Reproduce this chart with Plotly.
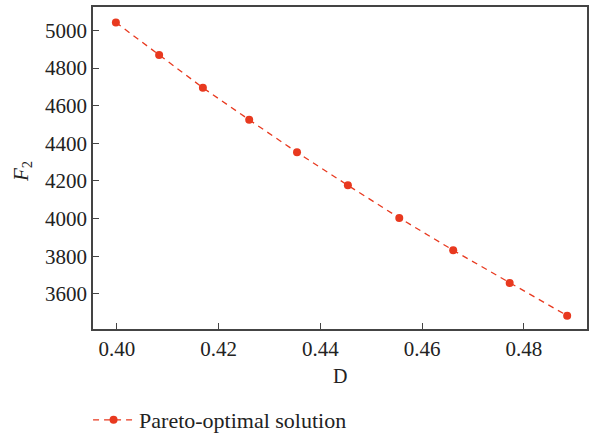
import plotly.graph_objects as go

D = [0.3998, 0.4083, 0.4169, 0.4260, 0.4354, 0.4454, 0.4555, 0.4661, 0.4772, 0.4885]
F2 = [5042, 4869, 4695, 4525, 4352, 4177, 4004, 3832, 3658, 3485]
series_name = "Pareto-optimal solution"
x_ticks = [0.40, 0.42, 0.44, 0.46, 0.48]
y_ticks = [3600, 3800, 4000, 4200, 4400, 4600, 4800, 5000]

color = "#e8391f"
font_family = "Liberation Serif, Times New Roman, serif"

fig = go.Figure()
fig.add_trace(go.Scatter(
    x=D, y=F2, mode="lines+markers", name=series_name,
    line=dict(color=color, width=1.3, dash="6px,5px"),
    marker=dict(color=color, size=8),
))

axis_common = dict(
    showline=True, linecolor="#444", linewidth=1.5, mirror=True,
    ticks="inside", ticklen=6, tickcolor="#444", tickwidth=1.2,
    showgrid=False, zeroline=False, automargin=False,
    tickfont=dict(family=font_family, size=21, color="#222"),
)

fig.update_layout(
    width=589, height=433,
    margin=dict(l=93, r=2, t=7, b=104, autoexpand=False),
    plot_bgcolor="white", paper_bgcolor="white",
    font=dict(family=font_family, size=21, color="#222"),
    xaxis=dict(range=[0.3953, 0.4924], tickvals=x_ticks,
               ticktext=[f"{v:.2f}" for v in x_ticks],
               **axis_common),
    yaxis=dict(range=[3414, 5124], tickvals=y_ticks, **axis_common),
    showlegend=True,
    legend=dict(orientation="h", x=-0.010, xanchor="left", y=-91/322, yanchor="middle",
                itemwidth=41,
                font=dict(family=font_family, size=22, color="#222"),
                bgcolor="rgba(0,0,0,0)"),
    annotations=[
        dict(text="D", xref="paper", yref="paper", x=0.50, y=-47/322,
             xanchor="center", yanchor="middle", showarrow=False,
             font=dict(family=font_family, size=20, color="#222")),
        dict(text="<i>F</i><sub>2</sub>", xref="paper", yref="paper",
             x=-71/494, y=(329-172)/322, textangle=-90,
             xanchor="center", yanchor="middle", showarrow=False,
             font=dict(family=font_family, size=21, color="#222")),
    ],
)

post = (
    "document.documentElement.style.margin='0';"
    "document.body.style.margin='0';"
    "document.body.style.padding='0';"
    "document.body.style.overflow='hidden';"
)

fig.write_html("out.html", config={"displayModeBar": False}, post_script=post)
